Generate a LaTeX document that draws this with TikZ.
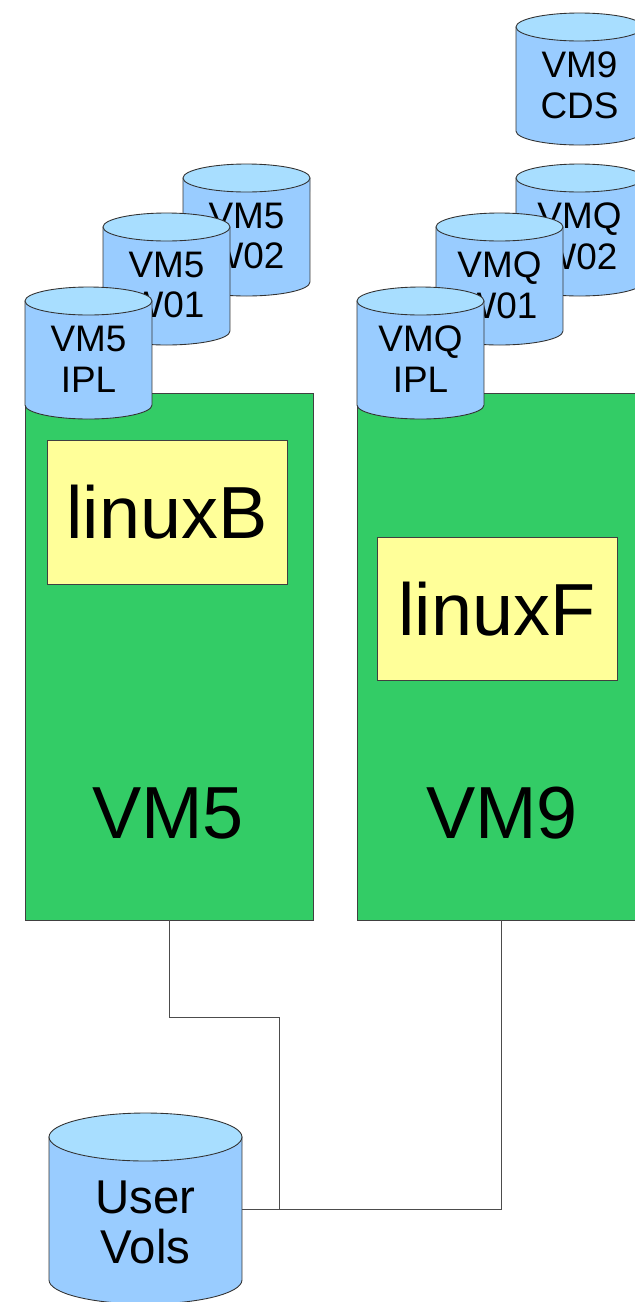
\documentclass[tikz,border=0pt]{standalone}
\usepackage{fontspec}
\setmainfont{Liberation Sans}
\usepackage{tikz}

\definecolor{vmgreen}{RGB}{51,204,102}
\definecolor{linuxyellow}{RGB}{255,255,153}
\definecolor{diskbody}{RGB}{153,204,255}
\definecolor{disktop}{RGB}{168,222,255}

\tikzset{
  vmbox/.style={draw=black!75, fill=vmgreen, line width=0.5pt,
    minimum width=5.76cm, minimum height=10.54cm, inner sep=0pt},
  guestbox/.style={draw=black!75, fill=linuxyellow, line width=0.5pt,
    minimum width=4.8cm, minimum height=2.87cm, inner sep=0pt,
    font=\fontsize{42}{48}\selectfont},
  bigtext/.style={font=\fontsize{42}{48}\selectfont, inner sep=0pt},
  disktext/.style={align=center, inner sep=0pt,
    font=\fontsize{21}{23.3}\selectfont},
  diskline/.style={draw=black!80, line width=0.5pt},
  wire/.style={draw=black!70, line width=0.5pt}
}

\begin{document}
\begin{tikzpicture}[x=0.02cm, y=-0.02cm]
		\useasboundingbox (0,0) rectangle (635,1302);

		% z/VM systems
		\node[vmbox] (vm5) at (169,656.5) {};
		\node[vmbox] (vm9) at (501,656.5) {};
		\node[bigtext] (vm5lbl) at (168,813) {VM5};
		\node[bigtext] (vm9lbl) at (502,813) {VM9};

		% guests
		\node[guestbox] (linuxb) at (167,512.5) {linuxB};
		\node[guestbox] (linuxf) at (497,609) {linuxF};

		% disks, back to front
		\foreach \x/\y/\n/\a/\b in {516/27/cds9/VM9/CDS,
		    183/178/w025/VM5/W02, 103/227/w015/VM5/W01, 25/301/ipl5/VM5/IPL,
		    516/178/w02q/VMQ/W02, 436/227/w01q/VMQ/W01, 357/301/iplq/VMQ/IPL}
		{
		\filldraw[diskline, fill=diskbody] (\x,\y) -- (\x,\y+104)
		    arc[start angle=180, end angle=360, x radius=1.27cm, y radius=0.28cm]
		    -- (\x+127,\y) -- cycle;
		\filldraw[diskline, fill=disktop] (\x+63.5,\y)
		    ellipse[x radius=1.27cm, y radius=0.28cm];
		\node[disktext] (\n) at (\x+63.5,\y+58) {\a\\\b};
		}

		% user volumes
		\filldraw[diskline, fill=diskbody] (49,1137) -- (49,1280)
		    arc[start angle=180, end angle=360, x radius=1.93cm, y radius=0.48cm]
		    -- (242,1137) -- cycle;
		\filldraw[diskline, fill=disktop] (145.5,1137)
		    ellipse[x radius=1.93cm, y radius=0.48cm];
		\node[disktext, font=\fontsize{27}{28.5}\selectfont] (uservols) at (145.5,1222) {User\\Vols};
		\coordinate (uvport) at (242,1209);
		\coordinate (join) at (279,1209);

		% links
		\draw[wire] (vm5.south) -- ++(0,97) -| (join);
		\draw[wire] (vm9.south) |- (uvport);
\end{tikzpicture}
\end{document}
